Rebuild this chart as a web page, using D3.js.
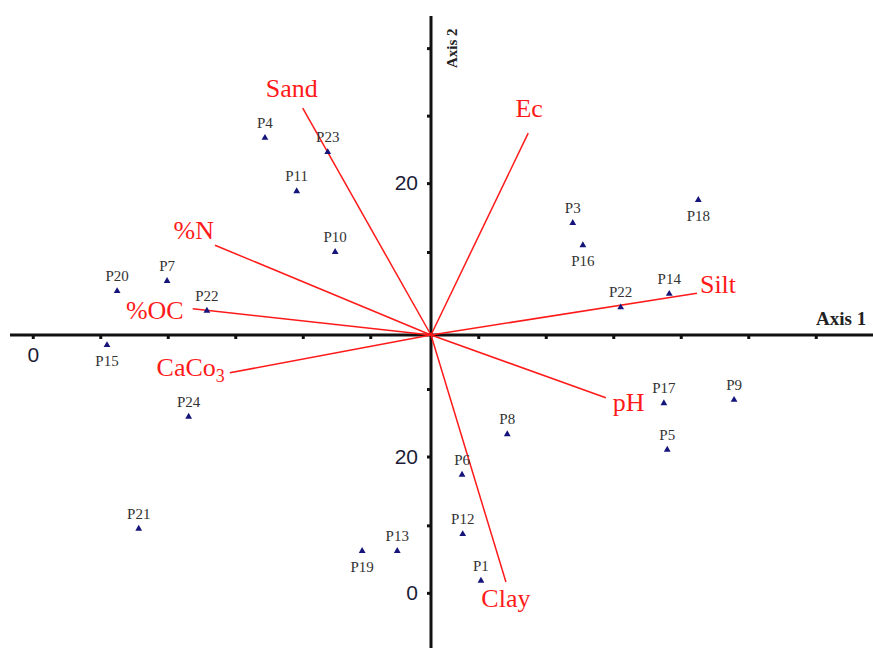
<!DOCTYPE html>
<html>
<head>
<meta charset="utf-8">
<style>
body { margin: 0; background: #fff; }
svg { display: block; }
.ptlabel { font: 15px "Liberation Serif", "Times New Roman", serif; fill: #333; }
.varlabel { font: 26px "Liberation Serif", "Times New Roman", serif; fill: #ff1a1a; }
.ticklab { font: 21px "Liberation Sans", Arial, sans-serif; fill: #1c1c38; }
</style>
<script src="https://d3js.org/d3.v7.min.js"></script>
</head>
<body>
<script>
  const width = 873;
  const height = 648;

  // sample scores (axis 1, axis 2)
  const sites = ["P1", "P3", "P4", "P5", "P6", "P7", "P8", "P9", "P10", "P11", "P12", "P13",
    "P14", "P15", "P16", "P17", "P18", "P19", "P20", "P21", "P22", "P22", "P23", "P24"];
  const axis1 = [7.4, 21.0, -24.6, 35.0, 4.6, -39.1, 11.3, 44.9, -14.2, -19.9, 4.7, -5.0,
    35.3, -48.0, 22.5, 34.5, 39.6, -10.2, -46.5, -43.3, -33.2, 28.1, -15.3, -35.9];
  const axis2 = [-36.4, 16.6, 29.2, -17.0, -20.7, 8.0, -14.7, -9.6, 12.3, 21.3, -29.5, -32.0,
    6.1, -1.5, 13.3, -10.1, 20.0, -32.0, 6.5, -28.7, 3.6, 4.1, 27.1, -12.1];

  // soil variable loadings
  const variables = ["Sand", "%N", "%OC", "Ec", "Silt", "CaCo3", "pH", "Clay"];
  const load1 = [-19.0, -32.0, -35.3, 14.4, 39.4, -29.8, 25.9, 11.1];
  const load2 = [33.6, 13.3, 3.9, 29.9, 6.2, -5.6, -9.3, -36.6];

  // axis ticks
  const xTicks = [-59, -49, -39, -29, -19, -9, 7, 17, 27, 37, 47, 57];
  const xTickLabels = ["0", "", "", "", "", "", "", "", "", "", "", ""];
  const yTicks = [42.5, 32.5, 22.5, 12.3, -8, -18, -28.2, -38.2];
  const yTickLabels = ["", "", "20", "", "", "20", "", "0"];

  // label placement (style)
  const below = ["P15", "P16", "P18", "P19"];
  const varLabelPos = {
    "Sand":  { dx: -11, dy: -11, anchor: "middle" },
    "%N":    { dx: -1,  dy: -6,  anchor: "end" },
    "%OC":   { dx: -9,  dy: 10,  anchor: "end" },
    "Ec":    { dx: 1,   dy: -16, anchor: "middle" },
    "Silt":  { dx: 3,   dy: 0,   anchor: "start" },
    "CaCo3": { dx: -5,  dy: 3,   anchor: "end" },
    "pH":    { dx: 7,   dy: 13,  anchor: "start" },
    "Clay":  { dx: 0,   dy: 25,  anchor: "middle" }
  };

  const ox = 431, oy = 335, unit = 6.75;
  const x = d3.scaleLinear().domain([-60, 60]).range([ox - 60 * unit, ox + 60 * unit]);
  const y = d3.scaleLinear().domain([-40, 40]).range([oy + 40 * unit, oy - 40 * unit]);

  const svg = d3.select("body").append("svg")
    .attr("width", width)
    .attr("height", height);

  // axis lines
  svg.append("line")
    .attr("x1", 10).attr("x2", width)
    .attr("y1", y(0)).attr("y2", y(0))
    .attr("stroke", "#111").attr("stroke-width", 3);
  svg.append("line")
    .attr("x1", x(0)).attr("x2", x(0))
    .attr("y1", 16).attr("y2", height)
    .attr("stroke", "#111").attr("stroke-width", 3);

  const xAxis = svg.append("g")
    .attr("transform", "translate(0," + y(0) + ")")
    .call(d3.axisBottom(x).tickValues(xTicks).tickSize(4).tickPadding(8)
      .tickFormat((d, i) => xTickLabels[i]));
  const yAxis = svg.append("g")
    .attr("transform", "translate(" + x(0) + ",0)")
    .call(d3.axisLeft(y).tickValues(yTicks).tickSize(4).tickPadding(9)
      .tickFormat((d, i) => yTickLabels[i]));

  [xAxis, yAxis].forEach(g => {
    g.attr("font-size", null).attr("font-family", null);
    g.select(".domain").remove();
    g.selectAll(".tick line").attr("stroke", "#111").attr("stroke-width", 3);
    g.selectAll(".tick text").attr("class", "ticklab");
  });

  svg.append("text")
    .attr("x", 816).attr("y", 325)
    .style("font", "bold 19px 'Liberation Serif', serif")
    .attr("fill", "#222")
    .text("Axis 1");
  svg.append("text")
    .attr("transform", "translate(457,68) rotate(-90)")
    .style("font", "bold 15px 'Liberation Serif', serif")
    .attr("fill", "#222")
    .text("Axis 2");

  // variable vectors
  const vars = variables.map((v, i) => ({ name: v, a: load1[i], b: load2[i] }));
  svg.append("g").selectAll("line")
    .data(vars)
    .join("line")
      .attr("x1", x(0)).attr("y1", y(0))
      .attr("x2", d => x(d.a)).attr("y2", d => y(d.b))
      .attr("stroke", "#ff1a1a")
      .attr("stroke-width", 1.5);

  const vl = svg.append("g").selectAll("text")
    .data(vars)
    .join("text")
      .attr("class", "varlabel")
      .attr("x", d => x(d.a) + varLabelPos[d.name].dx)
      .attr("y", d => y(d.b) + varLabelPos[d.name].dy)
      .attr("text-anchor", d => varLabelPos[d.name].anchor);
  vl.each(function(d) {
    const t = d3.select(this);
    const m = d.name.match(/^(.*?)(\d+)$/);
    if (m) {
      t.append("tspan").text(m[1]);
      t.append("tspan").attr("dy", 6).style("font-size", "18px").text(m[2]);
    } else {
      t.text(d.name);
    }
  });

  // sample points
  const pts = sites.map((s, i) => ({ name: s, a: axis1[i], b: axis2[i] }));
  svg.append("g").selectAll("path")
    .data(pts)
    .join("path")
      .attr("d", d3.symbol(d3.symbolTriangle, 20))
      .attr("transform", d => "translate(" + x(d.a) + "," + y(d.b) + ")")
      .attr("fill", "#14147a");

  svg.append("g").selectAll("text")
    .data(pts)
    .join("text")
      .attr("class", "ptlabel")
      .attr("x", d => x(d.a))
      .attr("y", d => y(d.b) + (below.includes(d.name) ? 21 : -10))
      .attr("text-anchor", "middle")
      .text(d => d.name);
</script>
</body>
</html>
